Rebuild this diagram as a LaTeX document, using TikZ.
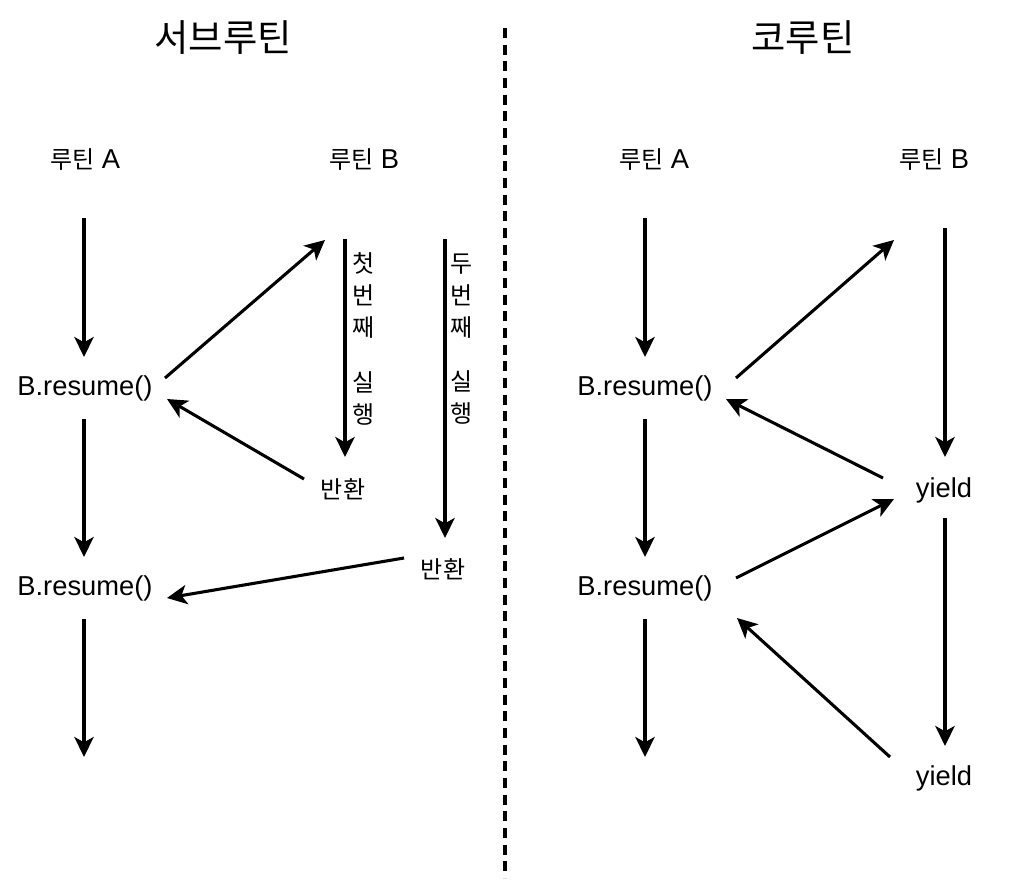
\documentclass[tikz,border=0pt]{standalone}
\usepackage{fontspec}
\setmainfont{Liberation Sans}
\newfontfamily\kr{Noto Sans CJK KR}
\usetikzlibrary{arrows.meta}
\newcommand\krt[1]{{\kr\fontsize{18}{22}\selectfont #1}}
\begin{document}
\begin{tikzpicture}[x=0.75pt,y=-0.75pt,
  lbl/.style={inner sep=0pt, font=\fontsize{20.5}{24}\selectfont},
  ttl/.style={inner sep=0pt, font=\kr\fontsize{28}{32}\selectfont},
  vlbl/.style={inner sep=0pt, align=center, font=\kr\fontsize{18}{24}\selectfont},
  arr/.style={line width=2.3pt, -{Stealth[length=15pt,width=14.5pt,inset=4pt]}},
  sep/.style={line width=2.4pt, dash pattern=on 7.5pt off 5pt}]
\useasboundingbox (0,0) rectangle (1018,892);
\fill[white] (0,0) rectangle (1018,892);
% titles
\node[ttl] (tS) at (223,38) {서브루틴};
\node[ttl] (tC) at (803,38) {코루틴};
% separator
\coordinate (sepT) at (505,28);
\coordinate (sepB) at (505,878);
\draw[sep] (sepT) -- (sepB);
% ---------- left: subroutine ----------
\node[lbl] (lA) at (85,160) {\krt{루틴} A};
\node[lbl] (lB) at (364,160) {\krt{루틴} B};
\node[lbl] (lR1) at (85,388) {B.resume()};
\node[lbl] (lR2) at (85,588) {B.resume()};
\node[lbl] (lRet1) at (343,489) {\krt{반환}};
\node[lbl] (lRet2) at (443,569) {\krt{반환}};
\node[vlbl] (lV1) at (364,339) {첫\\번\\째\\[17pt]실\\행};
\node[vlbl] (lV2) at (462,339) {두\\번\\째\\[17pt]실\\행};
\coordinate (la1s) at (84,218); \coordinate (la1e) at (84,357);
\coordinate (la2s) at (84,419); \coordinate (la2e) at (84,557);
\coordinate (la3s) at (84,619); \coordinate (la3e) at (84,757);
\coordinate (lu1s) at (165,378); \coordinate (lu1e) at (325,240);
\coordinate (lb1s) at (345,239); \coordinate (lb1e) at (345,457);
\coordinate (lb2s) at (445,239); \coordinate (lb2e) at (445,538);
\coordinate (lr1s) at (304,479); \coordinate (lr1e) at (167,399);
\coordinate (lr2s) at (404,558); \coordinate (lr2e) at (167,598);
\draw[arr] (la1s) -- (la1e);
\draw[arr] (la2s) -- (la2e);
\draw[arr] (la3s) -- (la3e);
\draw[arr] (lu1s) -- (lu1e);
\draw[arr] (lb1s) -- (lb1e);
\draw[arr] (lb2s) -- (lb2e);
\draw[arr] (lr1s) -- (lr1e);
\draw[arr] (lr2s) -- (lr2e);
% ---------- right: coroutine ----------
\node[lbl] (rA) at (654,160) {\krt{루틴} A};
\node[lbl] (rB) at (934,160) {\krt{루틴} B};
\node[lbl] (rR1) at (645,388) {B.resume()};
\node[lbl] (rR2) at (645,588) {B.resume()};
\node[lbl] (rY1) at (944,490) {yield};
\node[lbl] (rY2) at (944,778) {yield};
\coordinate (ra1s) at (645,218); \coordinate (ra1e) at (645,357);
\coordinate (ra2s) at (645,419); \coordinate (ra2e) at (645,557);
\coordinate (ra3s) at (645,619); \coordinate (ra3e) at (645,757);
\coordinate (rb1s) at (945,228); \coordinate (rb1e) at (945,457);
\coordinate (rb2s) at (945,518); \coordinate (rb2e) at (945,746);
\coordinate (ru1s) at (736,378); \coordinate (ru1e) at (894,240);
\coordinate (ry1s) at (883,478); \coordinate (ry1e) at (726,399);
\coordinate (ru2s) at (736,578); \coordinate (ru2e) at (894,499);
\coordinate (ry2s) at (890,757); \coordinate (ry2e) at (737,618);
\draw[arr] (ra1s) -- (ra1e);
\draw[arr] (ra2s) -- (ra2e);
\draw[arr] (ra3s) -- (ra3e);
\draw[arr] (rb1s) -- (rb1e);
\draw[arr] (rb2s) -- (rb2e);
\draw[arr] (ru1s) -- (ru1e);
\draw[arr] (ry1s) -- (ry1e);
\draw[arr] (ru2s) -- (ru2e);
\draw[arr] (ry2s) -- (ry2e);
\end{tikzpicture}
\end{document}
